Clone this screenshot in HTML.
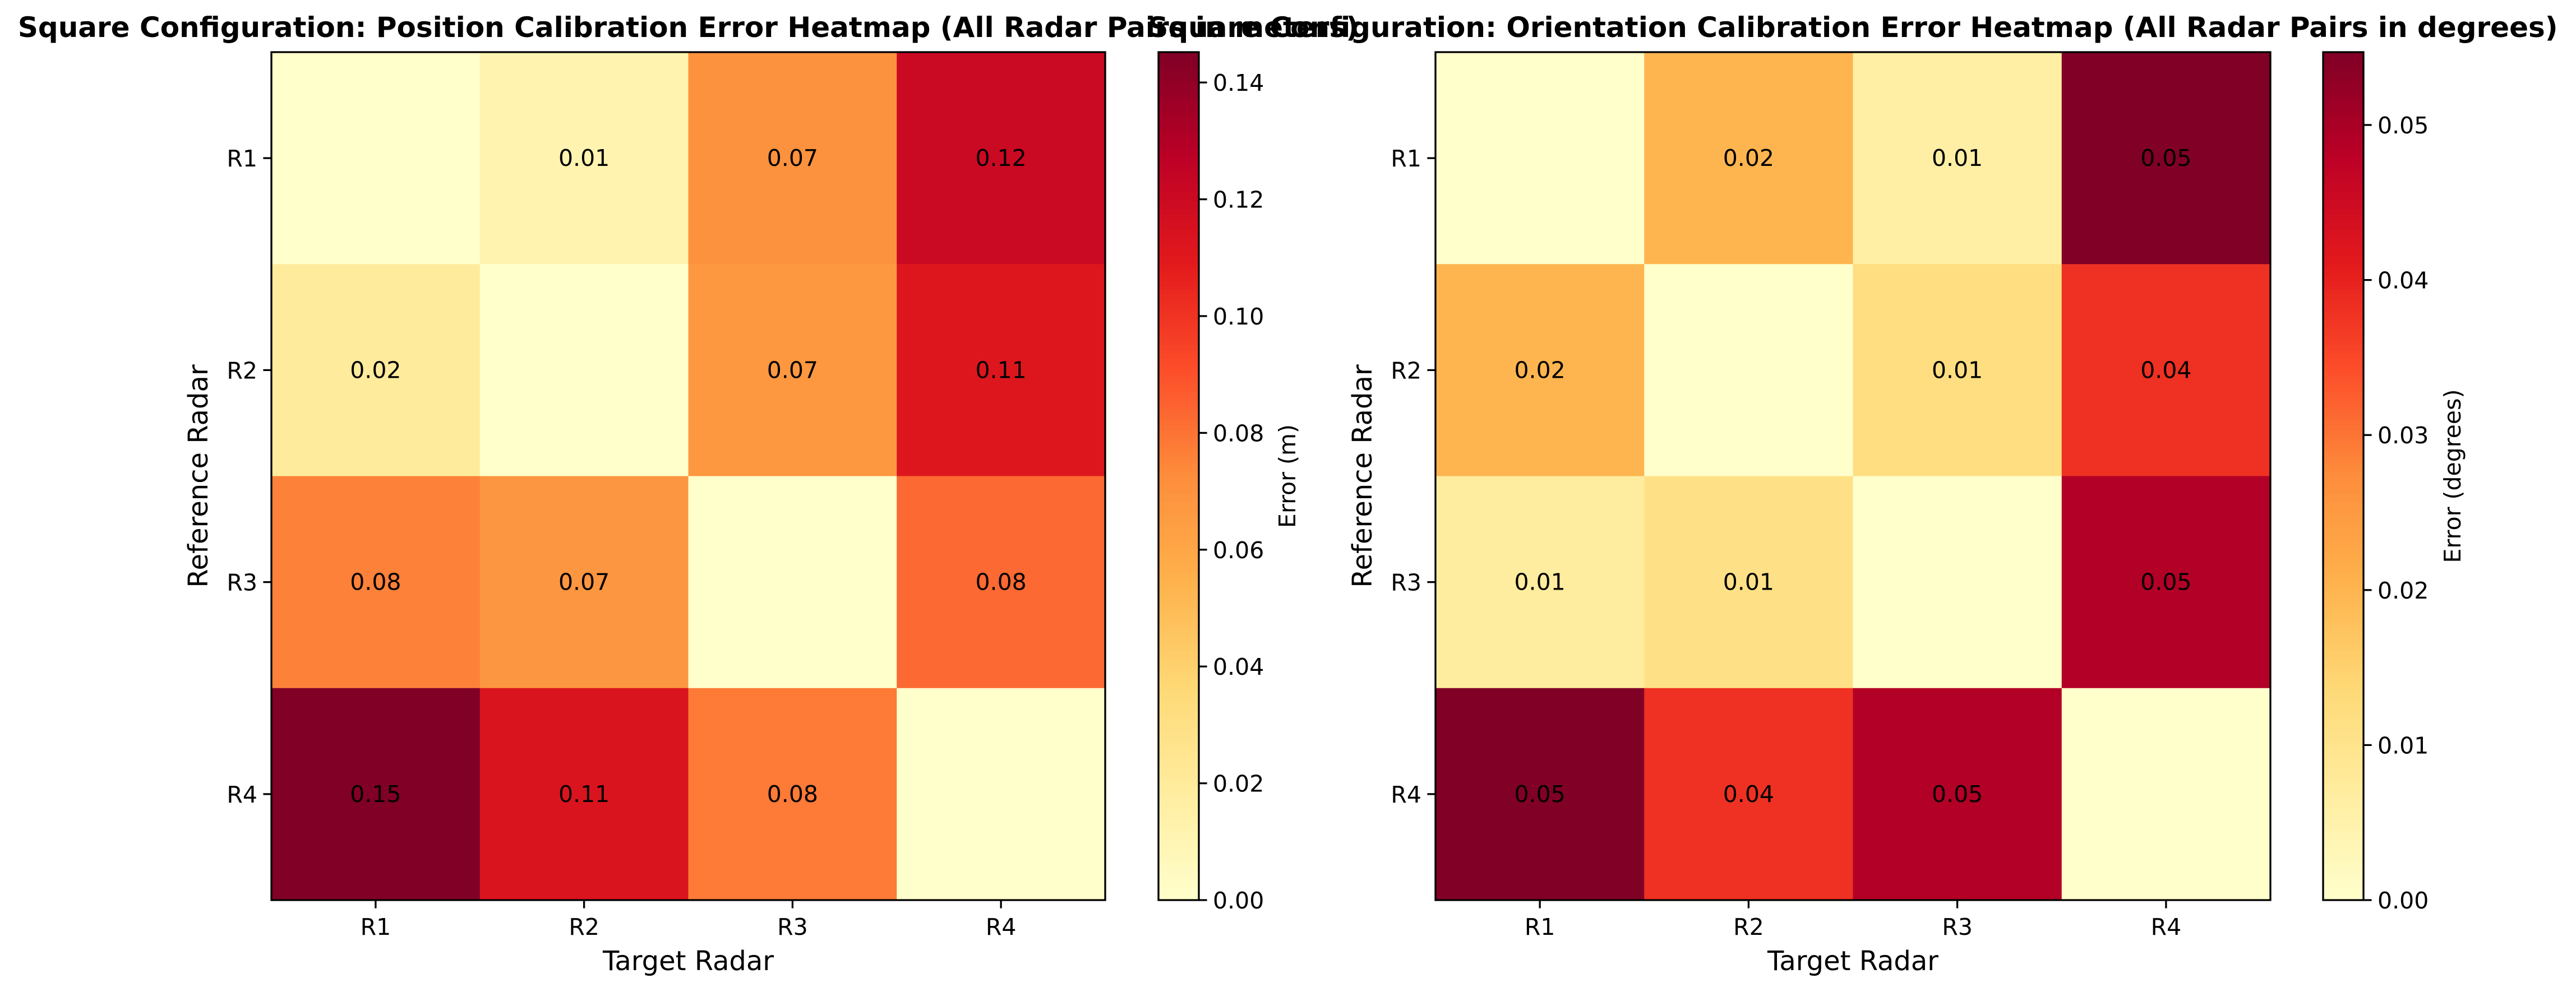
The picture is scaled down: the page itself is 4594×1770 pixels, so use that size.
<!DOCTYPE html>
<html><head><meta charset="utf-8"><style>
html,body{margin:0;padding:0;background:#fff;}
svg{display:block;font-family:"DejaVu Sans","Liberation Sans",sans-serif;}
</style></head><body>
<svg id="fig" width="4594" height="1770" viewBox="0 0 4594 1770" xmlns="http://www.w3.org/2000/svg"></svg>
<script>
const radarLabels = ["R1","R2","R3","R4"];
const posErrors = [
  [0, 0.012, 0.07, 0.121],
  [0.02, 0, 0.067, 0.112],
  [0.076, 0.068, 0, 0.083],
  [0.1452, 0.113, 0.078, 0]
];
const oriErrors = [
  [0, 0.02, 0.006, 0.0547],
  [0.02, 0, 0.012, 0.038],
  [0.007, 0.011, 0, 0.049],
  [0.0547, 0.038, 0.049, 0]
];
const posTicks = [0, 0.02, 0.04, 0.06, 0.08, 0.10, 0.12, 0.14];
const oriTicks = [0, 0.01, 0.02, 0.03, 0.04, 0.05];

const NS = "http://www.w3.org/2000/svg";
const svg = document.getElementById("fig");
const stops = ["#ffffcc","#ffeda0","#fed976","#feb24c","#fd8d3c","#fc4e2a","#e31a1c","#bd0026","#800026"];
function hex(h){return [1,3,5].map(i=>parseInt(h.substr(i,2),16));}
function cmap(t){
  t=Math.max(0,Math.min(1,t));
  const p=t*(stops.length-1), i=Math.min(Math.floor(p),stops.length-2), f=p-i;
  const a=hex(stops[i]), b=hex(stops[i+1]);
  return "rgb("+a.map((v,k)=>Math.round(v+(b[k]-v)*f)).join(",")+")";
}
function el(tag, attrs, parent){
  const e=document.createElementNS(NS,tag);
  for(const k in attrs) e.setAttribute(k,attrs[k]);
  (parent||svg).appendChild(e);
  return e;
}
function txt(s, attrs, parent){const t=el("text",attrs,parent);t.textContent=s;return t;}

function panel(cfg){
  const g=el("g",{});
  
  
  const n=radarLabels.length;
  const cw=(cfg.x1-cfg.x0)/n, ch=(cfg.y1-cfg.y0)/n;
  const vmax=Math.max(...cfg.data.flat());
  const xS=j=>cfg.x0+cw*j, yS=i=>cfg.y0+ch*i;
  for(let i=0;i<n;i++)for(let j=0;j<n;j++){
    const v=cfg.data[i][j];
    const r=el("rect",{x:xS(j),y:yS(i),width:cw+0.5,height:ch+0.5,fill:cmap(v/vmax)},g);
    
    
    if(v>0){
      const t=txt(v.toFixed(2),{x:xS(j)+cw/2,y:yS(i)+ch/2+14,"text-anchor":"middle","font-size":41,fill:"#000"},g);
      
      
    }
  }
  el("rect",{x:cfg.x0,y:cfg.y0,width:cfg.x1-cfg.x0,height:cfg.y1-cfg.y0,fill:"none",stroke:"#000","stroke-width":3.3},g);
  for(let k=0;k<n;k++){
    const cx=xS(k)+cw/2, cy=yS(k)+ch/2;
    el("line",{x1:cx,x2:cx,y1:cfg.y1,y2:cfg.y1+14.6,stroke:"#000","stroke-width":3.3},g);
    const xt=txt(radarLabels[k],{x:cx,y:cfg.y1+62,"text-anchor":"middle","font-size":41},g);
    
    
    el("line",{x1:cfg.x0-14.6,x2:cfg.x0,y1:cy,y2:cy,stroke:"#000","stroke-width":3.3},g);
    const yt=txt(radarLabels[k],{x:cfg.x0-25,y:cy+15,"text-anchor":"end","font-size":41},g);
    
    
  }
  const xl=txt("Target Radar",{x:(cfg.x0+cfg.x1)/2,y:1731,"text-anchor":"middle","font-size":48},g);
  
  
  const yl=txt("Reference Radar",{x:0,y:0,"text-anchor":"middle","font-size":48,transform:"translate("+cfg.ylx+","+(cfg.y0+cfg.y1)/2+") rotate(-90)"},g);
  
  
  const tt=txt(cfg.title,{x:(cfg.x0+cfg.x1)/2,y:66,"text-anchor":"middle","font-size":50,"font-weight":"bold"},g);
  
  
  const cb=el("g",{},g);
  
  
  const steps=200, bh=(cfg.y1-cfg.y0)/steps;
  for(let s=0;s<steps;s++){
    el("rect",{x:cfg.cbx,y:cfg.y1-(s+1)*bh,width:cfg.cbw,height:bh+0.6,fill:cmap((s+0.5)/steps)},cb);
  }
  el("rect",{x:cfg.cbx,y:cfg.y0,width:cfg.cbw,height:cfg.y1-cfg.y0,fill:"none",stroke:"#000","stroke-width":3.3},cb);
  const cS=v=>cfg.y1-(v/vmax)*(cfg.y1-cfg.y0);
  cfg.ticks.forEach(v=>{
    const y=cS(v);
    el("line",{x1:cfg.cbx+cfg.cbw,x2:cfg.cbx+cfg.cbw+14.6,y1:y,y2:y,stroke:"#000","stroke-width":3.3},cb);
    const t=txt(v.toFixed(2),{x:cfg.cbx+cfg.cbw+25,y:y+15,"font-size":41},cb);
    
    
  });
  const cl=txt(cfg.cblabel,{x:0,y:0,"text-anchor":"middle","font-size":41,transform:"translate("+cfg.cblx+","+(cfg.y0+cfg.y1)/2+") rotate(-90)"},cb);
  
  
}
panel({name:"position-heatmap",data:posErrors,ticks:posTicks,x0:484,x1:1971,y0:93,y1:1606,ylx:370,
  cbx:2066,cbw:72,cblx:2310,cblabel:"Error (m)",
  title:"Square Configuration: Position Calibration Error Heatmap (All Radar Pairs in meters)"});
panel({name:"orientation-heatmap",data:oriErrors,ticks:oriTicks,x0:2560,x1:4049,y0:93,y1:1606,ylx:2446,
  cbx:4143,cbw:72,cblx:4388,cblabel:"Error (degrees)",
  title:"Square Configuration: Orientation Calibration Error Heatmap (All Radar Pairs in degrees)"});
</script>
</body></html>
